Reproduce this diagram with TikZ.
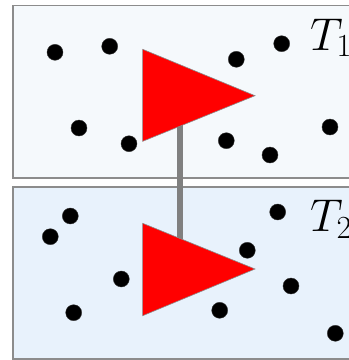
\RequirePackage{fix-cm}
\documentclass[tikz,border=0pt]{standalone}
\begin{document}
\begin{tikzpicture}[x=1pt,y=-1pt,
  panel/.style={draw=black!45,line width=1.3pt},
  dot/.style={circle,fill=black,draw=black!80,inner sep=0pt,minimum size=16pt},
  tri/.style={fill=red,draw=black!45,line width=0.6pt},
  link/.style={draw=black!50,line width=6.5pt},
  lbl/.style={inner sep=0pt,anchor=base west,font=\fontsize{46}{46}\selectfont}]
\definecolor{topfill}{RGB}{245,249,252}
\definecolor{botfill}{RGB}{232,242,252}
\useasboundingbox (0,0) rectangle (349,360);
\clip (0,0) rectangle (349,360);
\draw[panel,fill=topfill] (13,5.5) rectangle (370,178);
\draw[panel,fill=botfill] (13,187) rectangle (370,359);
% connector
\coordinate (c1) at (180,110);
\coordinate (c2) at (180,255);
\draw[link] (c1) -- (c2);
% triangles
\draw[tri] (142.7,49.3) -- (255,95.7) -- (142.7,141.3) -- cycle;
\draw[tri] (142.7,223.3) -- (255,269) -- (142.7,315.7) -- cycle;
% top dots
\foreach \n/\x/\y in {a/55/52.3,b/109.7/46.3,c/236.3/59.3,d/281.7/43.7,e/79/128,f/129/143.7,g/226.3/140.7,h/270/155,i/330/127}
  \node[dot] (t\n) at (\x,\y) {};
% bottom dots
\foreach \n/\x/\y in {a/70.3/216,b/50.3/236.7,c/121.3/279,d/73.7/312.7,e/277.7/212,f/247.3/250.3,g/291/286,h/219.7/310.3,i/335.3/333.3}
  \node[dot] (b\n) at (\x,\y) {};
\node[lbl] (T1) at (310,50) {$T_1$};
\node[lbl] (T2) at (310,231.7) {$T_2$};
\end{tikzpicture}
\end{document}
